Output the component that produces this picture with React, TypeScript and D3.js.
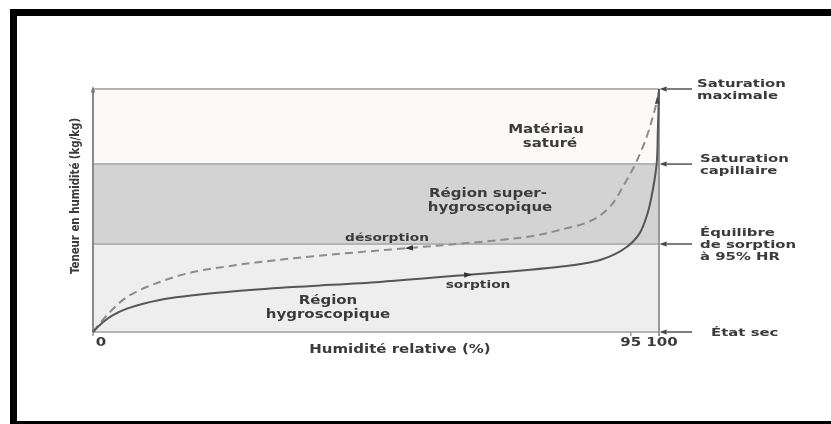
import React from "react";
import * as d3 from "d3";

// Humidité relative (%) vs teneur en humidité (échelle relative, 0 = état sec, 100 = saturation maximale)
const sorptionX = [0, 1.8, 3.6, 6.0, 11.8, 23.7, 35.3, 50.7, 66.1, 83.7, 89.6, 94.3, 96.6, 98.0, 98.9, 99.6, 99.8, 100];
const sorptionY = [0, 4.1, 7.0, 9.6, 13.2, 16.5, 18.5, 20.6, 23.5, 27.2, 29.6, 35.0, 40.7, 49.0, 58.4, 69.5, 83.1, 100];
const desorptionX = [0, 2.5, 6.0, 11.8, 17.7, 23.7, 29.5, 41.3, 56.0, 66.1, 77.7, 82.5, 88.3, 91.5, 93.8, 95.9, 97.8, 98.9, 99.8, 100];
const desorptionY = [0, 7.0, 14.4, 20.6, 24.7, 27.0, 28.8, 31.7, 34.6, 36.6, 39.5, 42.0, 46.1, 52.0, 60.5, 69.5, 80.2, 88.5, 96.7, 100];

const bandBounds = [0, 36.2, 69.1, 100];
const bandColors = ["#eeeeee", "#d3d3d3", "#fdf9f6"];

const xTicks = [0, 95, 100];
const xTickLabels = ["0", "95", "100"];

const rightLabels = [
  { y: 100, lines: ["Saturation", "maximale"] },
  { y: 69.1, lines: ["Saturation", "capillaire"] },
  { y: 36.2, lines: ["Équilibre", "de sorption", "à 95% HR"] },
  { y: 0, lines: ["État sec"] },
];

const FONT = "'DejaVu Sans', Verdana, sans-serif";
const SX = 1.25;

function T({ x, y, text, anchor = "middle", size = 12, weight = "bold", fill = "#3a3a3a", sx = SX }: any) {
  return (
    <g transform={`translate(${x},${y}) scale(${sx},1)`}>
      <text x={0} y={0} textAnchor={anchor} fontFamily={FONT} fontSize={size} fontWeight={weight} fill={fill}>
        {text}
      </text>
    </g>
  );
}

export default function App() {
  const W = 831, H = 424;
  const x = d3.scaleLinear().domain([0, 100]).range([93, 659]);
  const y = d3.scaleLinear().domain([0, 100]).range([332, 89]);

  const line = d3
    .line<[number, number]>()
    .x((d) => x(d[0]))
    .y((d) => y(d[1]))
    .curve(d3.curveCatmullRom.alpha(0.5));

  const sorp: [number, number][] = sorptionX.map((v, i) => [v, sorptionY[i]]);
  const desorp: [number, number][] = desorptionX.map((v, i) => [v, desorptionY[i]]);

  const tickDx = [8, 0, 3];

  const tri = (cx: number, cy: number, angleDeg: number, size = 5, fill = "#333") => {
    const p = d3.path();
    p.moveTo(size, 0);
    p.lineTo(-size * 0.6, -size * 0.55);
    p.lineTo(-size * 0.6, size * 0.55);
    p.closePath();
    return <path d={p.toString()} fill={fill} transform={`translate(${cx},${cy}) rotate(${angleDeg})`} />;
  };

  const sorpArrowX = 66.1, desorpArrowX = 56.0;
  const interp = (xs: number[], ys: number[], v: number) => {
    for (let i = 1; i < xs.length; i++) {
      if (v <= xs[i]) {
        const t = (v - xs[i - 1]) / (xs[i] - xs[i - 1]);
        return ys[i - 1] + t * (ys[i] - ys[i - 1]);
      }
    }
    return ys[ys.length - 1];
  };

  const RS = 10.5, RSX = 1.42, LH = 12;

  return (
    <svg width={W} height={H} style={{ position: "absolute", left: 0, top: 0, background: "#fff" }}>
      <defs>
        <filter id="soft" x="-5%" y="-5%" width="110%" height="110%">
          <feGaussianBlur stdDeviation="0.55" />
        </filter>
      </defs>
      <rect x={13.5} y={12.5} width={900} height={412} fill="none" stroke="#000" strokeWidth={7} />
      <g filter="url(#soft)">
        {bandColors.map((c, i) => (
          <rect key={i} x={x(0)} y={y(bandBounds[i + 1])} width={x(100) - x(0)} height={y(bandBounds[i]) - y(bandBounds[i + 1])} fill={c} />
        ))}
        {bandBounds.map((b, i) => (
          <line key={i} x1={x(0)} x2={x(100)} y1={y(b)} y2={y(b)} stroke="#b4b4b4" strokeWidth={2} />
        ))}
        <line x1={x(0)} x2={x(0)} y1={y(0)} y2={y(100) + 2} stroke="#8a8a8a" strokeWidth={2} />
        {tri(x(0), y(100) + 1, -90, 4, "#777")}
        <line x1={x(100)} x2={x(100)} y1={y(100)} y2={y(0) + 4} stroke="#999" strokeWidth={2} />
        {xTicks.map((t, i) => (
          <g key={t}>
            <line x1={x(t)} x2={x(t)} y1={y(0)} y2={y(0) + 4} stroke="#999" strokeWidth={1.5} />
            <T x={x(t) + tickDx[i]} y={346} text={xTickLabels[i]} />
          </g>
        ))}
        <path d={line(desorp) || ""} fill="none" stroke="#8c8c8c" strokeWidth={2} strokeDasharray="8,5" />
        <path d={line(sorp) || ""} fill="none" stroke="#555" strokeWidth={2} />
        {tri(x(sorpArrowX), y(interp(sorptionX, sorptionY, sorpArrowX)), -4, 5)}
        {tri(x(desorpArrowX), y(interp(desorptionX, desorptionY, desorpArrowX)), 176, 5)}
        {tri(x(99.7), y(95), -90, 4.5, "#444")}
        <T x={546} y={133} text="Matériau" />
        <T x={550} y={147} text="saturé" />
        <T x={488} y={197} text="Région super-" />
        <T x={490} y={211} text="hygroscopique" />
        <T x={328} y={304} text="Région" />
        <T x={328} y={318} text="hygroscopique" />
        <T x={387} y={241} text="désorption" size={11} />
        <T x={478} y={288} text="sorption" size={11} />
        <T x={400} y={353} text="Humidité relative (%)" />
        <g transform={`translate(79,196) scale(${SX},1) rotate(-90)`}>
          <text textAnchor="middle" fontFamily={FONT} fontSize={10.2} fontWeight="bold" fill="#3a3a3a">
            Teneur en humidité (kg/kg)
          </text>
        </g>
        {rightLabels.map((r, i) => {
          const yy = y(r.y);
          const lx = r.lines.length === 1 ? 711 : i === 0 ? 697 : 700;
          const top = yy - ((r.lines.length - 1) * LH) / 2 + 4;
          return (
            <g key={i}>
              <line x1={692} x2={667} y1={yy} y2={yy} stroke="#555" strokeWidth={1.5} />
              {tri(664, yy, 180, 4.5, "#444")}
              {r.lines.map((l, j) => (
                <T key={j} x={lx} y={top + j * LH} text={l} anchor="start" size={RS} sx={RSX} />
              ))}
            </g>
          );
        })}
      </g>
    </svg>
  );
}
